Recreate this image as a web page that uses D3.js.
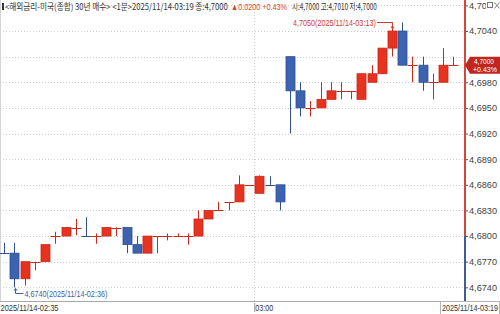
<!DOCTYPE html>
<html>
<head>
<meta charset="utf-8">
<script src="https://cdn.jsdelivr.net/npm/d3@7"></script>
<style>
  body { margin: 0; background: #fff; }
  svg { display: block; font-family: "Noto Sans CJK KR", "DejaVu Sans", sans-serif; }
</style>
</head>
<body>
<svg id="chart" width="500" height="314"></svg>
<script>
// 1 minute candles, 02:35 .. 03:19
let times = ["02:35","02:36","02:37","02:38","02:39","02:40","02:41","02:42","02:43","02:44",
  "02:45","02:46","02:47","02:48","02:49","02:50","02:51","02:52","02:53","02:54",
  "02:55","02:56","02:57","02:58","02:59","03:00","03:01","03:02","03:03","03:04",
  "03:05","03:06","03:07","03:08","03:09","03:10","03:11","03:12","03:13","03:14",
  "03:15","03:16","03:17","03:18","03:19"];
let opens = [4.6781,4.6780,4.6750,4.6770,4.6770,4.6800,4.6800,4.6810,4.6800,4.6800,
  4.6800,4.6810,4.6810,4.6790,4.6780,4.6800,4.6800,4.6800,4.6800,4.6800,
  4.6820,4.6830,4.6840,4.6840,4.6860,4.6850,4.6860,4.6860,4.7010,4.6970,
  4.6950,4.6950,4.6960,4.6970,4.6970,4.6960,4.6980,4.6990,4.7020,4.7040,
  4.7000,4.7000,4.6980,4.6980,4.7000];
let highs = [4.6792,4.6792,4.6770,4.6770,4.6790,4.6805,4.6810,4.6820,4.6822,4.6803,
  4.6810,4.6810,4.6810,4.6800,4.6800,4.6800,4.6803,4.6803,4.6803,4.6830,
  4.6830,4.6840,4.6840,4.6871,4.6860,4.6871,4.6870,4.6860,4.7010,4.6980,
  4.6958,4.6980,4.6980,4.6980,4.6970,4.6990,4.7000,4.7020,4.7050,4.7050,
  4.7010,4.7010,4.6990,4.7020,4.7010];
let lows = [4.6780,4.6740,4.6742,4.6760,4.6770,4.6791,4.6800,4.6801,4.6800,4.6791,
  4.6800,4.6800,4.6780,4.6780,4.6780,4.6780,4.6795,4.6800,4.6790,4.6800,
  4.6820,4.6830,4.6830,4.6840,4.6860,4.6850,4.6860,4.6830,4.6920,4.6940,
  4.6940,4.6950,4.6960,4.6960,4.6960,4.6960,4.6980,4.6990,4.7010,4.7000,
  4.6980,4.6970,4.6960,4.6980,4.7000];
let closes = [4.6780,4.6750,4.6770,4.6770,4.6790,4.6800,4.6810,4.6810,4.6800,4.6800,
  4.6810,4.6810,4.6790,4.6780,4.6800,4.6800,4.6800,4.6800,4.6800,4.6820,
  4.6830,4.6830,4.6840,4.6860,4.6860,4.6870,4.6860,4.6840,4.6970,4.6950,
  4.6950,4.6960,4.6970,4.6970,4.6970,4.6990,4.6990,4.7020,4.7040,4.7000,
  4.7000,4.6980,4.6980,4.7000,4.7000];
let prevClose = 4.6800;
let yTicks = [4.6740,4.6770,4.6800,4.6830,4.6860,4.6890,4.6920,4.6950,4.6980,4.7010,4.7040,4.7070];
let timeGrid = ["03:00"];

let red = "#e6321f", redLine = "#c92a1c";
let blue = "#3c63b0", blueLine = "#2f4f96";

let data = times.map(function(t, i) {
  return { time: t, open: opens[i], high: highs[i], low: lows[i], close: closes[i] };
});
data.forEach(function(d, i) {
  let ref = i > 0 ? data[i - 1].close : d.close;
  if (d.close > d.open) d.up = true;
  else if (d.close < d.open) d.up = false;
  else d.up = !(d.close < ref);
});

let plotRight = 465, plotBottom = 301;
let fmt = function(v) { return d3.format(".4f")(v).replace(".", ","); };
let latin = "'Liberation Sans', sans-serif";

let svg = d3.select("#chart");
let xScale = d3.scaleBand().domain(times).range([-0.8, 458.2]).paddingInner(0.12).paddingOuter(0.06);
let yScale = d3.scaleLinear().domain([4.67240, 4.70763]).range([plotBottom, 0]);
let step = xScale.step(), bw = xScale.bandwidth();
let cx = function(t) { return Math.round(xScale(t) + bw / 2) + 0.5; };

// squeeze a text horizontally so it spans exactly w pixels from x
function fitText(parent, str, x, y, w, size, color, family) {
  let t = parent.append("text").text(str)
    .style("font-size", size + "px").style("fill", color);
  if (family) t.style("font-family", family);
  let natural = t.node().getComputedTextLength();
  t.attr("transform", "translate(" + x + "," + y + ") scale(" + (w / natural) + ",1)");
  return t;
}

// grid
let grid = svg.append("g");
grid.selectAll(".hg").data(yTicks).enter().append("line")
  .attr("x1", 0).attr("x2", plotRight)
  .attr("y1", function(d) { return Math.round(yScale(d)) + 0.5; })
  .attr("y2", function(d) { return Math.round(yScale(d)) + 0.5; })
  .style("stroke", "#cfcfcf").style("stroke-dasharray", "1,2");
grid.selectAll(".vg").data(timeGrid).enter().append("line")
  .attr("x1", function(d) { return Math.round(xScale(d) + bw / 2 - step / 2) + 0.5; })
  .attr("x2", function(d) { return Math.round(xScale(d) + bw / 2 - step / 2) + 0.5; })
  .attr("y1", 12).attr("y2", plotBottom)
  .style("stroke", "#cfcfcf").style("stroke-dasharray", "1,2");
grid.append("line").attr("x1", 0.5).attr("x2", 0.5).attr("y1", 0).attr("y2", plotBottom)
  .style("stroke", "#d4d4d4");

// candles
let candles = svg.append("g").selectAll("g").data(data).enter().append("g");
candles.append("line")
  .attr("x1", function(d) { return cx(d.time); })
  .attr("x2", function(d) { return cx(d.time); })
  .attr("y1", function(d) { return yScale(d.high); })
  .attr("y2", function(d) { return yScale(d.low); })
  .style("stroke", function(d) { return d.up ? redLine : blueLine; });
candles.filter(function(d) { return Math.abs(d.open - d.close) >= 0.0002; })
  .append("rect")
  .attr("x", function(d) { return cx(d.time) - 4.5; })
  .attr("width", 9)
  .attr("y", function(d) { return yScale(Math.max(d.open, d.close)); })
  .attr("height", function(d) { return Math.abs(yScale(d.open) - yScale(d.close)); })
  .style("fill", function(d) { return d.up ? red : blue; })
  .style("stroke", function(d) { return d.up ? redLine : blueLine; })
  .style("stroke-width", 0.8);
candles.filter(function(d) { return Math.abs(d.open - d.close) < 0.0002; })
  .append("line")
  .attr("x1", function(d) { return cx(d.time) - 5; })
  .attr("x2", function(d) { return cx(d.time) + 5; })
  .attr("y1", function(d) { return Math.round(yScale(d.close)) + 0.5; })
  .attr("y2", function(d) { return Math.round(yScale(d.close)) + 0.5; })
  .style("stroke", function(d) { return d.up ? redLine : blueLine; });

// right axis
let yAxis = d3.axisRight(yScale).tickValues(yTicks).tickSize(3).tickPadding(1).tickFormat(fmt);
let axisG = svg.append("g")
  .attr("transform", "translate(" + plotRight + ",0)")
  .call(yAxis);
axisG.select(".domain").remove();
axisG.selectAll(".tick line").style("stroke", "#555");
axisG.selectAll(".tick text")
  .attr("textLength", 28).attr("lengthAdjust", "spacingAndGlyphs")
  .style("font-size", "9px").style("fill", "#444")
  .style("font-family", latin);
svg.append("line").attr("x1", plotRight).attr("x2", plotRight)
  .attr("y1", 0).attr("y2", yScale(prevClose))
  .style("stroke", "#d6453b").style("stroke-width", 2);
svg.append("line").attr("x1", plotRight).attr("x2", plotRight)
  .attr("y1", yScale(prevClose)).attr("y2", plotBottom)
  .style("stroke", "#3f5e99").style("stroke-width", 2);

// top-right icons
svg.append("rect").attr("x", 486).attr("y", 0).attr("width", 14).attr("height", 11).style("fill", "#fff");
svg.append("rect").attr("x", 487.5).attr("y", 2.5).attr("width", 5).attr("height", 5)
  .style("fill", "none").style("stroke", "#777");
svg.append("path").attr("d", "M494.5,2.5 L499.5,8.5 M499.5,2.5 L494.5,8.5").style("stroke", "#888");

// current price box (covers the tick label behind it, as in the HTS chart)
let last = data[data.length - 1];
let yc = yScale(last.close);
svg.append("path")
  .attr("d", "M" + plotRight + "," + yc + " L470," + (yc - 8.5) + " L500," + (yc - 8.5) + " L500," + (yc + 8.5) + " L470," + (yc + 8.5) + " Z")
  .style("fill", "#c0281f");
axisG.selectAll(".tick").filter(function(d) { return Math.abs(yScale(d) - yc) < 10; }).remove();
let pct = (last.close - prevClose) / prevClose * 100;
fitText(svg, fmt(last.close), 474, yc - 1.5, 20, 7.5, "#fff", latin);
fitText(svg, "+" + pct.toFixed(2) + "%", 473, yc + 6.5, 24, 7.5, "#fff", latin);

// max / min annotations
let hi = data.reduce(function(a, b) { return b.high > a.high ? b : a; });
let lo = data.reduce(function(a, b) { return b.low < a.low ? b : a; });
let yh = Math.round(yScale(hi.high)) + 0.5, xh = cx(hi.time);
fitText(svg, fmt(hi.high) + "(2025/11/14-" + hi.time + ")", 293, yh + 3.5, 83, 9, "#d23b2c", latin);
svg.append("path").attr("d", "M377," + yh + " L" + xh + "," + yh + " L" + xh + "," + (yh + 5))
  .style("fill", "none").style("stroke", "#d23b2c");
svg.append("path").attr("d", "M" + (xh - 2) + "," + (yh + 4) + " L" + (xh + 2) + "," + (yh + 4) + " L" + xh + "," + (yh + 7) + " Z")
  .style("fill", "#d23b2c");
let yl = Math.round(yScale(lo.low)) + 0.5, xl = cx(lo.time) + 1;
svg.append("path").attr("d", "M" + xl + "," + (yl + 1) + " L" + xl + "," + (yl + 6) + " L" + (xl + 8) + "," + (yl + 6))
  .style("fill", "none").style("stroke", "#3c5fa6");
svg.append("path").attr("d", "M" + (xl - 2) + "," + (yl + 3) + " L" + (xl + 2) + "," + (yl + 3) + " L" + xl + "," + (yl + 0.5) + " Z")
  .style("fill", "#3c5fa6");
fitText(svg, fmt(lo.low) + "(2025/11/14-" + lo.time + ")", 24.5, yl + 9, 83, 9, "#3c5fa6", latin);

// x axis strip
svg.append("line").attr("x1", 0).attr("x2", 500).attr("y1", plotBottom + 0.5).attr("y2", plotBottom + 0.5)
  .style("stroke", "#a8a8a8");
svg.append("rect").attr("x", 440.5).attr("y", plotBottom + 0.5).attr("width", 59).attr("height", 13)
  .style("fill", "#fff").style("stroke", "#b4b4b4");
let x300 = xScale(timeGrid[0]) + bw / 2 - step / 2 + 1;
fitText(svg, "2025/11/14-" + times[0], 0.5, 311, 58, 8.5, "#333", latin);
fitText(svg, timeGrid[0], x300, 311, 18, 8.5, "#333", latin);
fitText(svg, "2025/11/14-" + times[times.length - 1], 442, 311, 56, 8.5, "#333", latin);
svg.append("line").attr("x1", x300 - 0.5).attr("x2", x300 - 0.5).attr("y1", 303).attr("y2", 312)
  .style("stroke", "#999");

// header
let chg = last.close - prevClose;
svg.append("rect").attr("x", 2).attr("y", 3).attr("width", 2).attr("height", 7).style("fill", "#333");
fitText(svg, "<해외금리-미국(종합) 30년 매수> <1분>2025/11/14-" + last.time + " 종:" + fmt(last.close), 5, 10, 223, 9, "#333");
fitText(svg, "▲" + chg.toFixed(4) + " +" + pct.toFixed(2) + "%", 231, 10, 56, 9, "#e0402e", latin);
fitText(svg, "시:" + fmt(last.open) + " 고:" + fmt(last.high) + " 저:" + fmt(last.low), 292, 10, 85, 9, "#333");
</script>
</body>
</html>
